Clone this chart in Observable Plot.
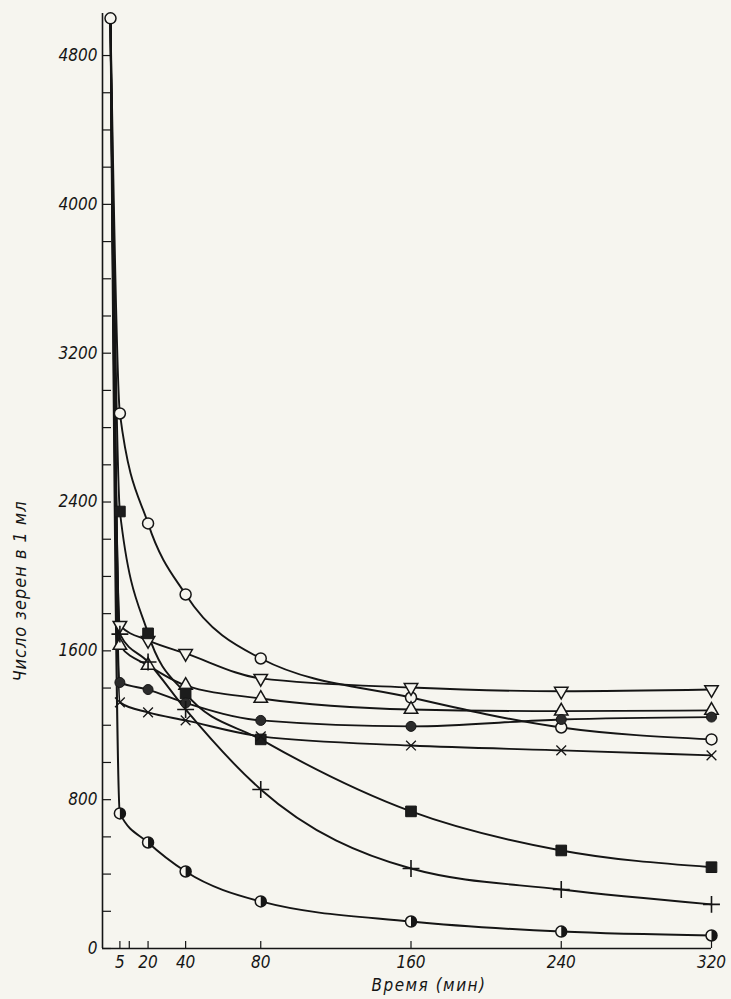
<!DOCTYPE html>
<html>
<head>
<meta charset="utf-8">
<script src="https://cdn.jsdelivr.net/npm/d3@7"></script>
<script src="https://cdn.jsdelivr.net/npm/@observablehq/plot@0.6"></script>
<style>
  html, body { margin: 0; padding: 0; background: #f6f5ef; }
  #chart svg { display: block; }
</style>
</head>
<body>
<div id="chart"></div>
<script>
// ---- data ----
const times = [0, 5, 20, 40, 80, 160, 240, 320];
const openCircle   = [5000, 2876, 2285, 1903, 1559, 1349, 1188, 1124];
const downTriangle = [5000, 1737, 1656, 1586, 1452, 1403, 1383, 1392];
const upTriangle   = [5000, 1629, 1522, 1414, 1344, 1285, 1276, 1280];
const filledSquare = [5000, 2349, 1694, 1371, 1124,  737,  527,  437];
const filledCircle = [5000, 1430, 1392, 1320, 1226, 1194, 1231, 1244];
const crossMark    = [5000, 1323, 1269, 1226, 1140, 1091, 1065, 1038];
const plusMark     = [5000, 1690, 1540, 1285,  855,  430,  317,  237];
const halfCircle   = [5000,  726,  570,  414,  253,  145,   91,   70];

const xTicks = [5, 10, 20, 40, 80, 160, 240, 320];
const xTickLabels = [5, 20, 40, 80, 160, 240, 320];
const yTickLabels = [0, 800, 1600, 2400, 3200, 4000, 4800];
const yMinorTicks = [0, 200, 400, 600, 800, 1000, 1200, 1400, 1600, 1800, 2000, 2200, 2400,
  2600, 2800, 3000, 3200, 3400, 3600, 3800, 4000, 4200, 4400, 4600, 4800];

const yLabel = "Число зерен в 1 мл";
const xLabel = "Время (мин)";

// ---- build table ----
const seriesList = [
  ["openCircle", openCircle], ["downTriangle", downTriangle], ["upTriangle", upTriangle],
  ["filledSquare", filledSquare], ["filledCircle", filledCircle], ["cross", crossMark],
  ["plus", plusMark], ["halfCircle", halfCircle]
];
const rows = [];
for (const [s, vals] of seriesList) times.forEach((t, i) => rows.push({s, t, v: vals[i]}));
const marks = rows.filter(d => d.t > 0);
const start = rows.filter(d => d.t === 0 && d.s === "openCircle");
const of = s => marks.filter(d => d.s === s);

const BG = "#f6f5ef";
const INK = "#151515";

const SQ3 = Math.sqrt(3);
const downTri = {
  draw(ctx, size) {
    const y = -Math.sqrt(size / (SQ3 * 3));
    ctx.moveTo(0, -2 * y);
    ctx.lineTo(-SQ3 * y, y);
    ctx.lineTo(SQ3 * y, y);
    ctx.closePath();
  }
};
const rightHalf = {
  draw(ctx, size) {
    const r = Math.sqrt(size / Math.PI);
    ctx.moveTo(0, -r);
    ctx.arc(0, 0, r, -Math.PI / 2, Math.PI / 2);
    ctx.closePath();
  }
};

const xDomain = [-4.26, 320];
const yDomain = [0, 5026];
const fmt = d => String(d);

const chart = Plot.plot({
  width: 731,
  height: 999,
  marginLeft: 102,
  marginRight: 20,
  marginTop: 13,
  marginBottom: 51,
  style: {
    background: BG,
    fontFamily: "'DejaVu Sans Condensed', 'Liberation Sans Narrow', 'DejaVu Sans', sans-serif",
    fontStyle: "italic",
    fontSize: "17px",
    color: INK
  },
  x: {domain: xDomain},
  y: {domain: yDomain},
  marks: [
    // axis lines
    Plot.ruleX([xDomain[0]], {stroke: INK, strokeWidth: 1.6}),
    Plot.ruleY([0], {stroke: INK, strokeWidth: 1.6}),
    // inward ticks
    Plot.axisY(yMinorTicks, {tickSize: -9, text: null, label: null, stroke: INK, strokeWidth: 1.2}),
    Plot.axisY(yTickLabels, {tickSize: 0, tickPadding: 5, label: null, tickFormat: fmt, fill: INK}),
    Plot.axisX(xTicks, {tickSize: -7, text: null, label: null, stroke: INK, strokeWidth: 1.2}),
    Plot.axisX(xTickLabels, {tickSize: 0, tickPadding: 7, label: null, tickFormat: fmt, fill: INK}),
    // curves
    Plot.line(rows, {x: "t", y: "v", z: "s", curve: "monotone-x", stroke: INK, strokeWidth: 1.9}),
    // markers
    Plot.dot(start, {x: "t", y: "v", r: 5.5, symbol: "circle", fill: BG, stroke: INK, strokeWidth: 1.5}),
    Plot.dot(of("openCircle"), {x: "t", y: "v", r: 5.5, symbol: "circle", fill: BG, stroke: INK, strokeWidth: 1.5}),
    Plot.dot(of("downTriangle"), {x: "t", y: "v", r: 5, symbol: downTri, fill: BG, stroke: INK, strokeWidth: 1.5}),
    Plot.dot(of("upTriangle"), {x: "t", y: "v", r: 5, symbol: "triangle", fill: BG, stroke: INK, strokeWidth: 1.5}),
    Plot.dot(of("filledSquare"), {x: "t", y: "v", r: 6, symbol: "square", fill: "#1c1c1c", stroke: INK, strokeWidth: 1}),
    Plot.dot(of("filledCircle"), {x: "t", y: "v", r: 5, symbol: "circle", fill: "#2b2b2b", stroke: INK, strokeWidth: 1}),
    Plot.dot(of("cross"), {x: "t", y: "v", r: 4.5, symbol: "times", stroke: INK, strokeWidth: 1.3}),
    Plot.dot(of("plus"), {x: "t", y: "v", r: 5.5, symbol: "plus", stroke: INK, strokeWidth: 1.6}),
    Plot.dot(of("halfCircle"), {x: "t", y: "v", r: 5.5, symbol: "circle", fill: BG, stroke: INK, strokeWidth: 1.5}),
    Plot.dot(of("halfCircle"), {x: "t", y: "v", r: 5.5, symbol: rightHalf, fill: INK, stroke: "none"}),
    // axis titles
    Plot.text([yLabel], {frameAnchor: "left", textAnchor: "middle", dx: -82, dy: 110, rotate: -90, fontSize: 18, fill: INK}),
    Plot.text([xLabel], {frameAnchor: "bottom", textAnchor: "middle", dx: 22, dy: 42, fontSize: 17, fill: INK})
  ]
});

d3.select(chart).selectAll("text").filter(function () { return this.textContent === xLabel; })
  .attr("letter-spacing", "1.5px");
d3.select(chart).selectAll("text").filter(function () { return this.textContent === yLabel; })
  .attr("letter-spacing", "1px");

document.getElementById("chart").appendChild(chart);
</script>
</body>
</html>
